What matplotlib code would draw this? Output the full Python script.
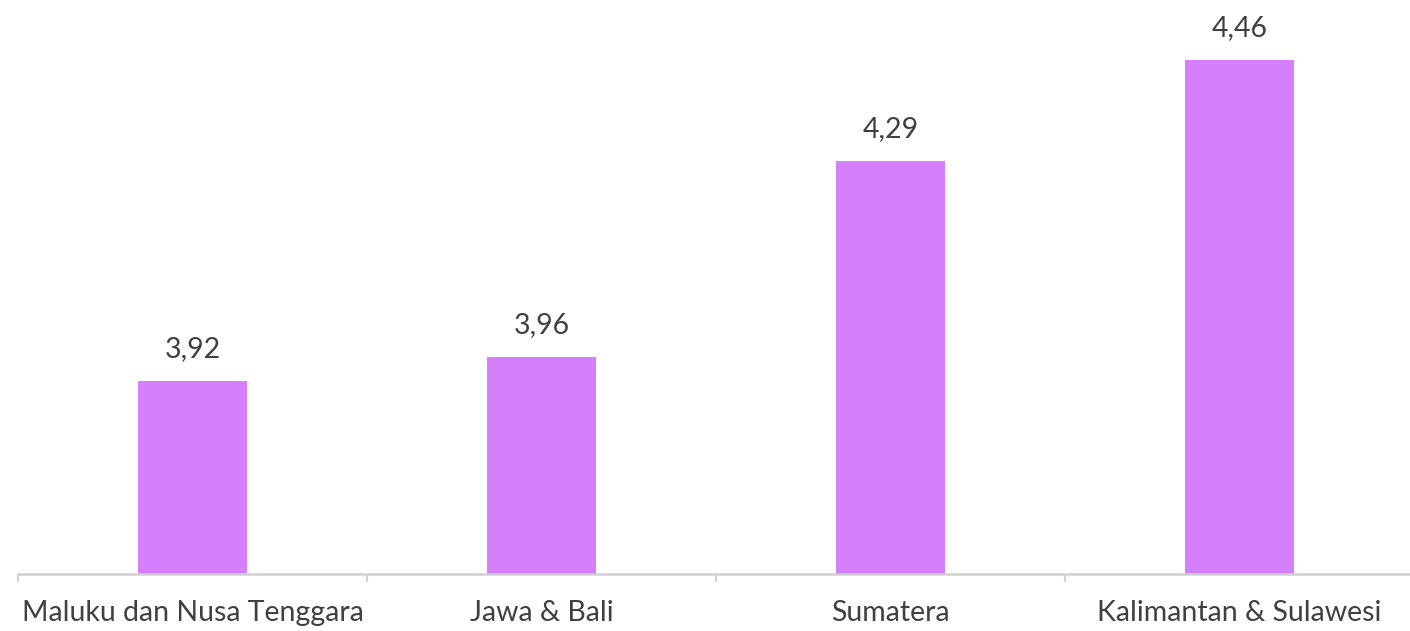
import numpy as np
import matplotlib.pyplot as plt

# -----------------------------------
# Data
# -----------------------------------

regions = [
    "Maluku dan Nusa Tenggara",
    "Jawa & Bali",
    "Sumatera",
    "Kalimantan & Sulawesi",
]
values = [3.92, 3.96, 4.29, 4.46]

bar_color = "#D67FFC"
text_color = "#404040"
axis_color = "#D0D0D0"

plt.rcParams["font.family"] = ["Lato", "DejaVu Sans"]

# -----------------------------------
# Plot
# -----------------------------------

fig = plt.figure(figsize=(14.10, 6.31), dpi=100)
ax = fig.add_axes([18 / 1410, 57 / 631, 1396 / 1410, 594 / 631])

x = np.arange(len(regions))
bars = ax.bar(x, values, width=0.315, color=bar_color, zorder=2)

for xi, v in zip(x, values):
    ax.annotate(
        f"{v:.2f}".replace(".", ","),
        xy=(xi, v),
        xytext=(0, 19),
        textcoords="offset pixels",
        ha="center",
        va="bottom",
        fontsize=20.5,
        color=text_color,
    )

ax.set_xlim(-0.5, len(regions) - 0.5)
ax.set_ylim(3.595, 4.595)

for side in ["top", "right", "left"]:
    ax.spines[side].set_visible(False)
ax.spines["bottom"].set_color(axis_color)
ax.spines["bottom"].set_linewidth(1.8)

ax.set_yticks([])
ax.set_xticks(x)
ax.set_xticklabels(regions, fontsize=20.5, color=text_color)
ax.tick_params(axis="x", which="major", length=0, pad=19)
ax.set_xticks(np.arange(-0.5, len(regions), 1.0), minor=True)
ax.tick_params(axis="x", which="minor", length=6, width=1.5, color=axis_color)

fig.savefig("out.png", dpi=100)
